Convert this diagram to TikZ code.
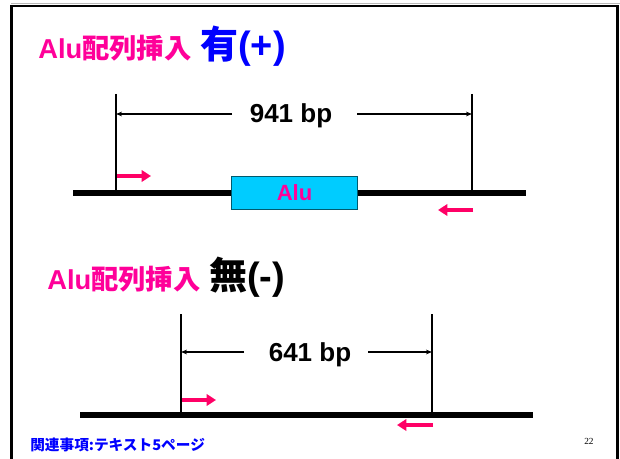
\documentclass[tikz,border=0pt]{standalone}
\usepackage{fontspec}
\setmainfont{Liberation Sans}
\newfontfamily\cjk{Noto Sans CJK JP}
\newfontfamily\serifnum{Liberation Serif}
\usetikzlibrary{arrows.meta}
\definecolor{pinkt}{RGB}{255,0,153}
\definecolor{primer}{RGB}{255,0,102}
\definecolor{alubox}{RGB}{0,204,255}
\definecolor{aluedge}{RGB}{0,90,110}
\definecolor{titleblue}{RGB}{0,0,255}
\begin{document}
\begin{tikzpicture}[x=0.75pt,y=-0.75pt,
  txt/.style={inner sep=0pt, font=\bfseries},
  dimline/.style={line width=0.8pt, -{Stealth[length=4.5pt,width=3.5pt]}},
  tick/.style={line width=1.6pt},
  dna/.style={line width=4.6pt},
  primerarrow/.style={draw=primer, line width=3pt, -{Triangle[length=7pt,width=8.5pt]}},
  frame/.style={line width=1.6pt}]
\useasboundingbox (0,0) rectangle (620,459);
% slide frame
\draw[gray!55, line width=1pt] (11,3.5) -- (620,3.5);
\draw[frame] (11.5,470) -- (11.5,6) -- (617.5,6) -- (617.5,470);

% ---------- upper panel ----------
\node[txt, anchor=base west, text=pinkt, font=\bfseries\fontsize{20.5}{22}\selectfont] (t1a) at (38,59) {Alu{\cjk 配列挿入}};
\node[txt, anchor=base west, text=titleblue, font=\bfseries\fontsize{28.5}{30}\selectfont] (t1b) at (200,59) {{\cjk 有}(+)};

\coordinate (l1s) at (73,193);
\coordinate (l1e) at (526,193);
\coordinate (v1a) at (116,94);
\coordinate (v1b) at (116,193);
\coordinate (v1c) at (472,94);
\coordinate (v1d) at (472,193);
\coordinate (h1l) at (116,114);
\coordinate (h1r) at (472,114);
\coordinate (h1a) at (232,114);
\coordinate (h1b) at (357,114);
\draw[dna] (l1s) -- (l1e);
\draw[tick] (v1a) -- (v1b);
\draw[tick] (v1c) -- (v1d);
\draw[dimline] (h1a) -- (h1l);
\draw[dimline] (h1b) -- (h1r);
\node[txt, anchor=base, font=\bfseries\fontsize{19.5}{21}\selectfont] (d1) at (291,123) {941 bp};
\node[draw=aluedge, fill=alubox, line width=0.9pt, minimum width=94.5pt, minimum height=25pt, inner sep=0pt,
      text=pinkt, font=\bfseries\fontsize{16.5}{18}\selectfont] (alu) at (294.5,193) {Alu};
\coordinate (p1a) at (117,176);
\coordinate (p1b) at (151,176);
\coordinate (p1c) at (473,210);
\coordinate (p1d) at (438,210);
\draw[primerarrow] (p1a) -- (p1b);
\draw[primerarrow] (p1c) -- (p1d);

% ---------- lower panel ----------
\node[txt, anchor=base west, text=pinkt, font=\bfseries\fontsize{20.5}{22}\selectfont] (t2a) at (47,290) {Alu{\cjk 配列挿入}};
\node[txt, anchor=base west, text=black, font=\bfseries\fontsize{28.5}{30}\selectfont] (t2b) at (209,290) {{\cjk 無}(-)};

\coordinate (l2s) at (80,415);
\coordinate (l2e) at (533,415);
\coordinate (v2a) at (181,314);
\coordinate (v2b) at (181,415);
\coordinate (v2c) at (432,314);
\coordinate (v2d) at (432,415);
\coordinate (h2l) at (181,352);
\coordinate (h2r) at (432,352);
\coordinate (h2a) at (244,352);
\coordinate (h2b) at (368,352);
\draw[dna] (l2s) -- (l2e);
\draw[tick] (v2a) -- (v2b);
\draw[tick] (v2c) -- (v2d);
\draw[dimline] (h2a) -- (h2l);
\draw[dimline] (h2b) -- (h2r);
\node[txt, anchor=base, font=\bfseries\fontsize{19.5}{21}\selectfont] (d2) at (310,361) {641 bp};
\coordinate (p2a) at (182,400);
\coordinate (p2b) at (216,400);
\coordinate (p2c) at (433,425);
\coordinate (p2d) at (397,425);
\draw[primerarrow] (p2a) -- (p2b);
\draw[primerarrow] (p2c) -- (p2d);

% ---------- footer ----------
\node[txt, anchor=base west, text=titleblue, font=\cjk\bfseries\fontsize{11}{12}\selectfont] (foot) at (30,450) {関連事項:テキスト5ページ};
\node[inner sep=0pt, anchor=base west, font=\serifnum\fontsize{7}{8}\selectfont] (pg) at (584,444) {22};
\end{tikzpicture}
\end{document}
